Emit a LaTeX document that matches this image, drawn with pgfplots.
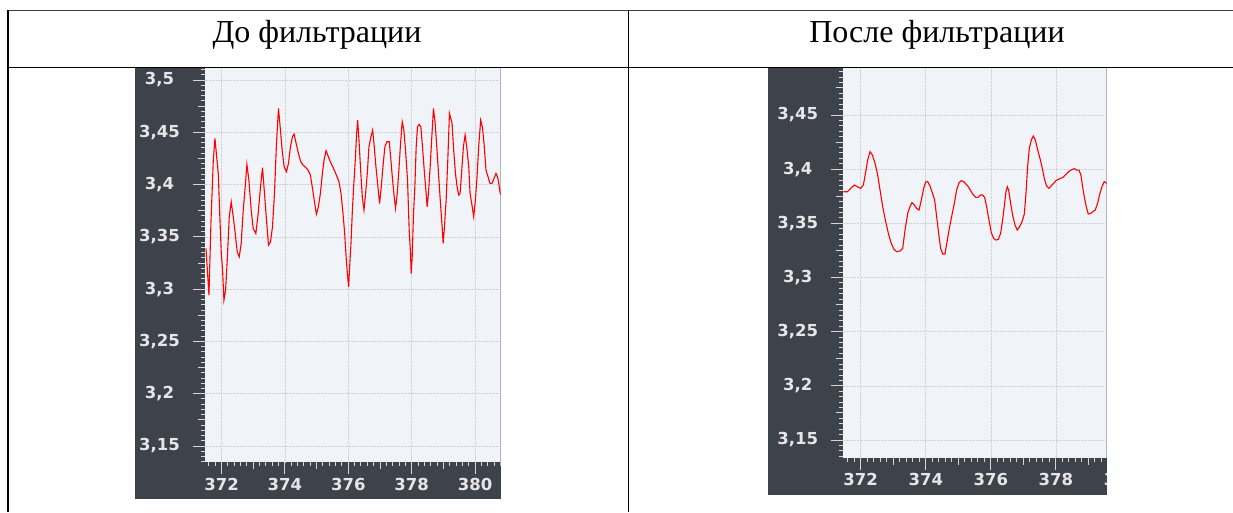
\documentclass[border=0pt]{standalone}
\usepackage{fontspec}
\setmainfont{Liberation Serif}
\newfontfamily\tickfont{DejaVu Sans}
\usepackage{pgfplots}
\usepackage{pgfplotstable}
\pgfplotsset{compat=1.18}
\definecolor{panel}{RGB}{62,66,75}
\definecolor{plotbg}{RGB}{240,244,248}
\definecolor{gridc}{RGB}{208,211,216}
\definecolor{tickc}{RGB}{212,214,218}
\definecolor{labc}{RGB}{230,230,232}

\pgfplotstableread{
x y
371.507 3.3389
371.601 3.2942
371.664 3.3644
371.738 3.4234
371.790 3.4442
371.843 3.4266
371.895 3.4107
371.948 3.3660
371.990 3.3341
372.031 3.3181
372.073 3.2894
372.126 3.2990
372.178 3.3277
372.241 3.3692
372.304 3.3835
372.367 3.3692
372.430 3.3532
372.493 3.3357
372.556 3.3309
372.619 3.3437
372.682 3.3756
372.745 3.3979
372.798 3.4193
372.861 3.4043
372.934 3.3756
372.997 3.3580
373.081 3.3532
373.155 3.3724
373.228 3.3979
373.291 3.4161
373.354 3.3915
373.417 3.3660
373.480 3.3421
373.543 3.3453
373.606 3.3596
373.669 3.3915
373.732 3.4394
373.795 3.4729
373.848 3.4553
373.911 3.4330
373.974 3.4170
374.047 3.4123
374.110 3.4202
374.173 3.4362
374.236 3.4458
374.289 3.4483
374.352 3.4394
374.425 3.4298
374.499 3.4218
374.572 3.4186
374.656 3.4164
374.730 3.4138
374.803 3.4091
374.877 3.3947
374.940 3.3819
374.992 3.3717
375.055 3.3787
375.118 3.3915
375.181 3.4107
375.234 3.4234
375.297 3.4324
375.370 3.4266
375.433 3.4218
375.507 3.4170
375.580 3.4123
375.643 3.4075
375.706 3.4027
375.769 3.3915
375.832 3.3724
375.885 3.3532
375.937 3.3277
375.979 3.3117
376.011 3.3022
376.042 3.3213
376.084 3.3437
376.126 3.3740
376.168 3.3979
376.220 3.4234
376.262 3.4489
376.294 3.4617
376.336 3.4426
376.389 3.4138
376.441 3.3883
376.494 3.3756
376.546 3.3915
376.599 3.4107
376.651 3.4362
376.714 3.4458
376.767 3.4521
376.819 3.4362
376.872 3.4170
376.935 3.3979
376.987 3.3819
377.040 3.3979
377.092 3.4170
377.155 3.4362
377.218 3.4410
377.292 3.4410
377.344 3.4234
377.397 3.4043
377.449 3.3883
377.491 3.3772
377.544 3.3915
377.596 3.4138
377.649 3.4394
377.701 3.4601
377.754 3.4521
377.806 3.4330
377.869 3.4043
377.921 3.3564
377.963 3.3341
377.984 3.3149
378.016 3.3309
378.058 3.3724
378.100 3.3979
378.142 3.4362
378.184 3.4553
378.236 3.4576
378.289 3.4553
378.341 3.4362
378.404 3.4107
378.457 3.3915
378.488 3.3787
378.530 3.3915
378.583 3.4170
378.636 3.4458
378.688 3.4729
378.741 3.4585
378.793 3.4362
378.846 3.4107
378.909 3.3819
378.961 3.3596
378.993 3.3437
379.035 3.3596
379.087 3.3851
379.140 3.4234
379.192 3.4681
379.234 3.4633
379.276 3.4585
379.318 3.4362
379.381 3.4107
379.434 3.3979
379.486 3.3900
379.528 3.3915
379.581 3.4138
379.633 3.4362
379.686 3.4474
379.738 3.4362
379.801 3.4170
379.843 3.3915
379.895 3.3819
379.958 3.3692
380.010 3.3851
380.063 3.4075
380.115 3.4362
380.178 3.4617
380.231 3.4553
380.283 3.4394
380.346 3.4138
380.409 3.4075
380.472 3.4011
380.535 3.4011
380.598 3.4059
380.661 3.4107
380.724 3.4059
380.787 3.3931
380.808 3.3899
}\rawdata

\pgfplotstableread{
x y
371.468 3.3792
371.590 3.3792
371.693 3.3823
371.805 3.3854
371.898 3.3838
372.000 3.3823
372.082 3.3854
372.164 3.3992
372.215 3.4085
372.287 3.4162
372.358 3.4131
372.440 3.4054
372.512 3.3962
372.594 3.3808
372.676 3.3654
372.758 3.3531
372.850 3.3408
372.932 3.3322
373.014 3.3263
373.106 3.3238
373.208 3.3245
373.290 3.3269
373.362 3.3438
373.444 3.3592
373.515 3.3654
373.577 3.3691
373.648 3.3669
373.720 3.3638
373.792 3.3623
373.863 3.3715
373.935 3.3823
373.997 3.3882
374.058 3.3885
374.130 3.3845
374.201 3.3783
374.273 3.3715
374.334 3.3562
374.396 3.3408
374.457 3.3269
374.519 3.3217
374.590 3.3217
374.662 3.3346
374.734 3.3469
374.805 3.3577
374.877 3.3685
374.949 3.3808
375.020 3.3875
375.092 3.3894
375.164 3.3885
375.235 3.3863
375.307 3.3838
375.379 3.3802
375.461 3.3762
375.532 3.3740
375.604 3.3740
375.676 3.3762
375.747 3.3762
375.809 3.3740
375.870 3.3654
375.942 3.3531
376.014 3.3414
376.085 3.3362
376.157 3.3346
376.229 3.3352
376.300 3.3408
376.362 3.3531
376.423 3.3685
376.464 3.3792
376.505 3.3838
376.546 3.3808
376.607 3.3685
376.669 3.3577
376.741 3.3485
376.812 3.3438
376.884 3.3469
376.956 3.3515
377.028 3.3586
377.079 3.3777
377.130 3.4023
377.181 3.4192
377.243 3.4269
377.304 3.4306
377.366 3.4269
377.427 3.4192
377.509 3.4100
377.581 3.4008
377.642 3.3915
377.713 3.3845
377.785 3.3823
377.857 3.3848
377.928 3.3869
378.000 3.3894
378.072 3.3906
378.143 3.3915
378.215 3.3925
378.287 3.3946
378.358 3.3968
378.430 3.3986
378.502 3.3998
378.563 3.4005
378.635 3.3992
378.707 3.3992
378.768 3.3946
378.819 3.3838
378.870 3.3746
378.931 3.3654
378.993 3.3586
379.065 3.3592
379.136 3.3608
379.208 3.3623
379.280 3.3685
379.352 3.3777
379.423 3.3845
379.484 3.3885
379.535 3.3875
379.556 3.3863
}\filtdata

\pgfplotsset{scrstyle/.style={
  scale only axis,
  axis background/.style={fill=plotbg},
  axis line style={draw=none},
  tick pos=left,
  tick align=outside,
  major tick length=12pt,
  minor tick length=4pt,
  tick style={tickc, line width=1pt},
  grid=major,
  major grid style={gridc, densely dotted, line width=0.6pt},
  ticklabel style={font=\tickfont\bfseries\fontsize{16.5}{19}\selectfont, text=labc},
  /pgf/number format/use comma,
  /pgf/number format/assume math mode=true,
  xtick={370,372,374,376,378,380,382},
  ytick={3.1,3.15,3.2,3.25,3.3,3.35,3.4,3.45,3.5,3.55},
  minor xtick={371.0,371.2,...,381.4},
  minor ytick={3.125,3.13,...,3.52},
  extra x ticks={371,373,375,377,379,381},
  extra x tick labels={},
  extra y ticks={3.125,3.175,3.225,3.275,3.325,3.375,3.425,3.475,3.525},
  extra y tick labels={},
  extra tick style={grid=none, major tick length=7pt},
  yticklabel style={anchor=center, xshift=-33pt},
  xticklabel style={anchor=center, yshift=-10pt},
}}

\begin{document}
\begin{tikzpicture}[x=1pt,y=1pt]
\useasboundingbox (0,0) rectangle (1233,512);
\fill[white] (0,0) rectangle (1233,512);
% dark panels
\fill[panel] (135,12.7) rectangle (500.7,444);
\fill[panel] (768.3,17) rectangle (1106.7,444);

\begin{scope}
\clip (135,12.7) rectangle (500.7,444);
\begin{axis}[scrstyle,
  at={(204.5pt,50pt)}, anchor=south west,
  width=296.2pt, height=394pt,
  xmin=371.46, xmax=380.81, ymin=3.1347, ymax=3.5115]
\addplot[red, line width=1.1pt] table[x=x,y=y] {\rawdata};
\end{axis}
\end{scope}

\begin{scope}
\clip (768.3,17) rectangle (1106.7,444);
\begin{axis}[scrstyle,
  at={(842.7pt,54.3pt)}, anchor=south west,
  width=310.85pt, height=389.7pt,
  xmin=371.447, xmax=381, ymin=3.1337, ymax=3.4934]
\addplot[red, line width=1.1pt] table[x=x,y=y] {\filtdata};
\end{axis}
\end{scope}

% table rules
\draw[line width=1.5pt, black!75] (7,501.5) -- (1233,501.5);
\draw[line width=1.5pt, black] (7,444.5) -- (1233,444.5);
\draw[line width=1.5pt, black] (7.8,502.2) -- (7.8,0);
\draw[line width=1.5pt, black] (628.5,502.2) -- (628.5,0);

\node[anchor=base, inner sep=0pt] at (317,469.3) {\fontsize{32}{38}\selectfont До фильтрации};
\node[anchor=base, inner sep=0pt] at (937,469.3) {\fontsize{32}{38}\selectfont После фильтрации};
\end{tikzpicture}
\end{document}
